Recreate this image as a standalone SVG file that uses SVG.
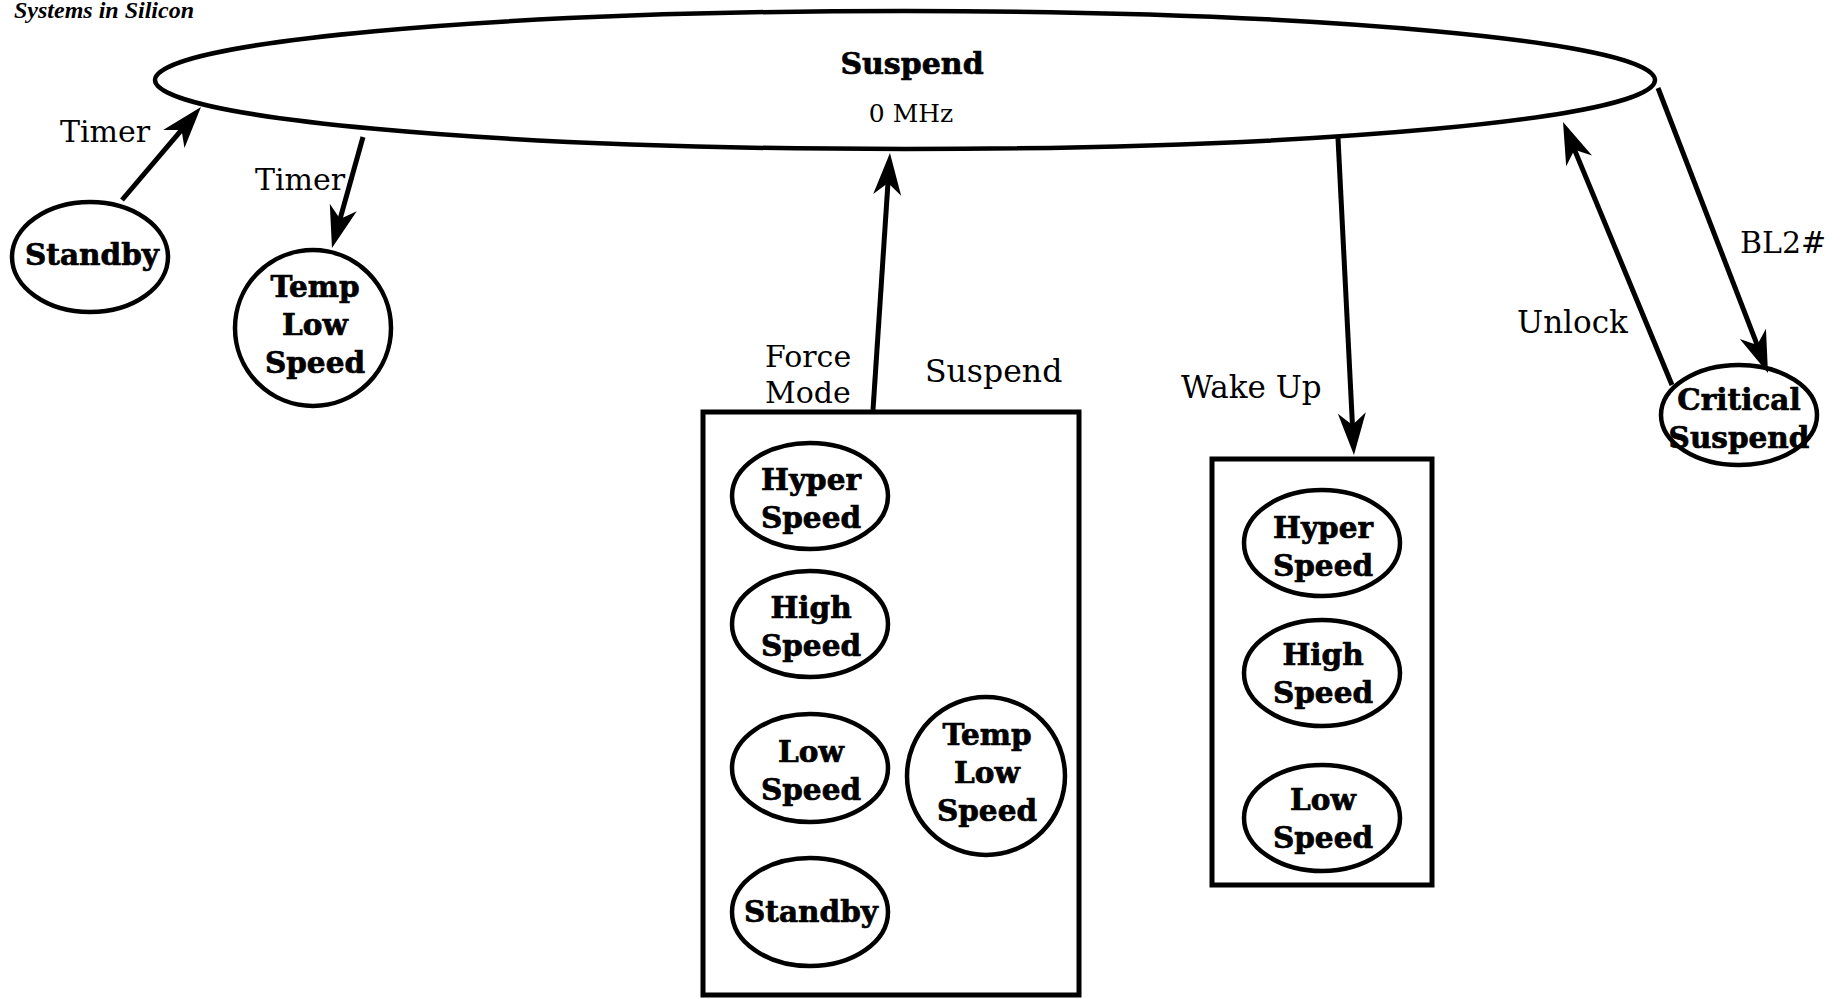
<svg xmlns="http://www.w3.org/2000/svg" width="1843" height="999" viewBox="0 0 1843 999">
<style>
.shape{fill:#fff;stroke:#000;stroke-width:4.5}
.box{fill:none;stroke:#000;stroke-width:5}
.conn{fill:none;stroke:#000;stroke-width:5;marker-end:url(#arr)}
.nt{font-family:"DejaVu Serif","Liberation Serif",serif;font-weight:bold;font-size:29.5px;text-anchor:middle;fill:#000;stroke:#000;stroke-width:0.7}
.lb{font-family:"DejaVu Serif","Liberation Serif",serif;font-size:30px;fill:#000}
</style>
<defs>
<marker id="arr" markerUnits="userSpaceOnUse" viewBox="-20 -16 48 32" markerWidth="48" markerHeight="32" refX="0" refY="0" orient="auto" overflow="visible">
<path d="M25,0 L-17,-14 L-5,0 L-17,14 Z" fill="#000"/>
</marker>
</defs>
<rect width="1843" height="999" fill="#fff"/>
<text x="14" y="18" font-family="Liberation Serif, serif" font-weight="bold" font-style="italic" font-size="24">Systems in Silicon</text>

<g id="suspend">
<ellipse class="shape" cx="905" cy="80" rx="750" ry="69"/>
<text class="nt" x="912" y="74" style="font-size:30px">Suspend</text>
<text class="lb" x="911" y="122" style="font-size:25px" text-anchor="middle">0 MHz</text>
</g>

<g id="standby">
<ellipse class="shape" cx="90" cy="257" rx="78" ry="55"/>
<text class="nt" x="92" y="265">Standby</text>
</g>

<g id="temp-low-speed">
<circle class="shape" cx="313" cy="328" r="78"/>
<text class="nt" x="315" y="297">Temp</text>
<text class="nt" x="315" y="335">Low</text>
<text class="nt" x="315" y="373">Speed</text>
</g>

<g id="force-mode-group">
<rect class="box" x="703" y="412" width="376" height="583"/>
<g id="fm-hyper">
<ellipse class="shape" cx="810" cy="496" rx="78" ry="53"/>
<text class="nt" x="811" y="490">Hyper</text>
<text class="nt" x="811" y="528">Speed</text>
</g>
<g id="fm-high">
<ellipse class="shape" cx="810" cy="624" rx="78" ry="53"/>
<text class="nt" x="811" y="618">High</text>
<text class="nt" x="811" y="656">Speed</text>
</g>
<g id="fm-low">
<ellipse class="shape" cx="810" cy="768" rx="78" ry="54"/>
<text class="nt" x="811" y="762">Low</text>
<text class="nt" x="811" y="800">Speed</text>
</g>
<g id="fm-standby">
<ellipse class="shape" cx="810" cy="912" rx="78" ry="54"/>
<text class="nt" x="811" y="922">Standby</text>
</g>
<g id="fm-temp">
<circle class="shape" cx="986" cy="776" r="79"/>
<text class="nt" x="987" y="745">Temp</text>
<text class="nt" x="987" y="783">Low</text>
<text class="nt" x="987" y="821">Speed</text>
</g>
</g>

<g id="wake-group">
<rect class="box" x="1212" y="459" width="220" height="426"/>
<g id="wk-hyper">
<ellipse class="shape" cx="1322" cy="543" rx="78" ry="53"/>
<text class="nt" x="1323" y="538">Hyper</text>
<text class="nt" x="1323" y="576">Speed</text>
</g>
<g id="wk-high">
<ellipse class="shape" cx="1322" cy="673" rx="78" ry="53"/>
<text class="nt" x="1323" y="665">High</text>
<text class="nt" x="1323" y="703">Speed</text>
</g>
<g id="wk-low">
<ellipse class="shape" cx="1322" cy="818" rx="78" ry="53"/>
<text class="nt" x="1323" y="810">Low</text>
<text class="nt" x="1323" y="848">Speed</text>
</g>
</g>

<g id="critical-suspend">
<ellipse class="shape" cx="1739" cy="415" rx="78" ry="50"/>
<text class="nt" x="1739" y="410">Critical</text>
<text class="nt" x="1739" y="448">Suspend</text>
</g>

<g id="connectors">
<line class="conn" x1="122" y1="200" x2="184.8" y2="126.1"/>
<line class="conn" x1="363" y1="137" x2="338.7" y2="223.9"/>
<line class="conn" x1="873" y1="410" x2="888.3" y2="177.9"/>
<line class="conn" x1="1338" y1="138" x2="1352.7" y2="430"/>
<line class="conn" x1="1672" y1="385" x2="1572.6" y2="145.1"/>
<line class="conn" x1="1658" y1="88" x2="1759" y2="349.7"/>
<text class="lb" x="60" y="142">Timer</text>
<text class="lb" x="255" y="190">Timer</text>
<text class="lb" x="765" y="367">Force</text>
<text class="lb" x="765" y="403">Mode</text>
<text class="lb" x="925" y="382" style="font-size:31.5px">Suspend</text>
<text class="lb" x="1181" y="398" style="font-size:31px">Wake Up</text>
<text class="lb" x="1517" y="333" style="font-size:31px">Unlock</text>
<text class="lb" x="1740" y="253">BL2#</text>
</g>
</svg>
